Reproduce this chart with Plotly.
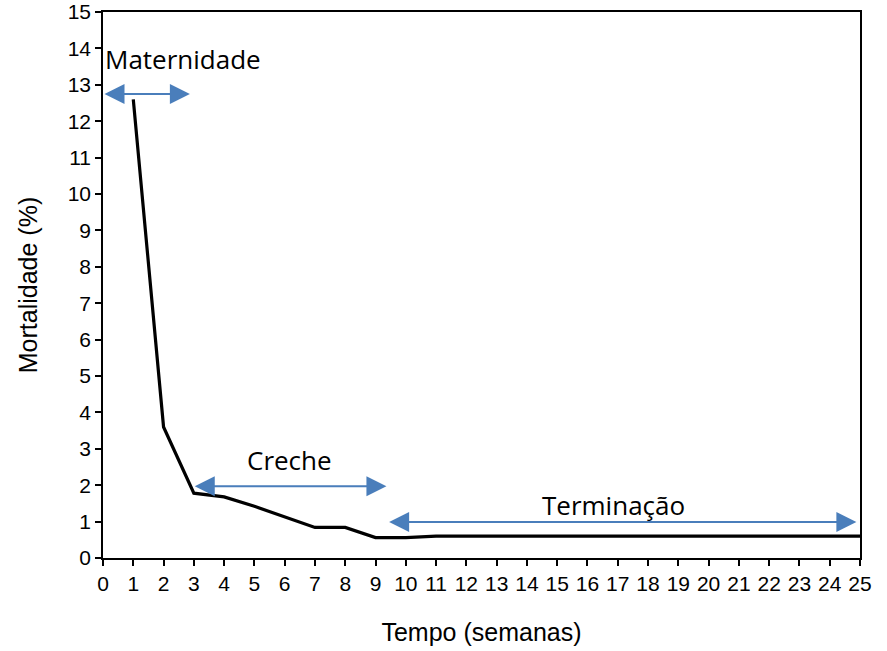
import plotly.graph_objects as go

weeks = list(range(1, 26))
mortality = [12.6, 3.6, 1.78, 1.68, 1.42, 1.13, 0.84, 0.84, 0.56, 0.56,
             0.6, 0.6, 0.6, 0.6, 0.6, 0.6, 0.6, 0.6, 0.6, 0.6,
             0.6, 0.6, 0.6, 0.6, 0.6]

phase_names = ["Maternidade", "Creche", "Terminação"]
phase_start = [0.0, 2.98, 9.4]
phase_end = [2.87, 9.36, 24.88]
phase_y = [12.75, 1.97, 0.99]
label_x = [2.64, 6.17, 16.87]
label_y = [13.7, 2.7, 1.45]

x_ticks = list(range(0, 26))
y_ticks = list(range(0, 16))

fig = go.Figure()
fig.add_trace(go.Scatter(x=weeks, y=mortality, mode="lines",
                         line=dict(color="black", width=3.2), showlegend=False,
                         hoverinfo="skip"))

arrow_color = "#4a7ebb"
for name, x0, x1, y, lx, ly in zip(phase_names, phase_start, phase_end, phase_y, label_x, label_y):
    fig.add_annotation(x=x1, y=y, ax=x0, ay=y, xref="x", yref="y", axref="x", ayref="y",
                       text="", showarrow=True, arrowhead=2, startarrowhead=2,
                       arrowside="end+start", arrowsize=2, startarrowsize=2,
                       arrowwidth=2, arrowcolor=arrow_color)
    fig.add_annotation(x=lx, y=ly, xref="x", yref="y", text=name, showarrow=False,
                       font=dict(family="Open Sans, Liberation Sans, sans-serif", size=26, color="black"))

fig.update_layout(
    width=887, height=651,
    margin=dict(l=103, r=27, t=12, b=93),
    plot_bgcolor="white", paper_bgcolor="white",
    font=dict(family="Liberation Sans, Arial, sans-serif", size=19, color="black"),
    xaxis=dict(range=[0, 25], tickvals=x_ticks, ticktext=[str(v) for v in x_ticks],
               showgrid=False, zeroline=False, showline=True, linecolor="black", linewidth=1.5,
               mirror=True, ticks="outside", ticklen=6, tickcolor="black", tickwidth=1.5,
               automargin=False, tickfont=dict(size=21), ticklabeloverflow="allow",
               title=dict(text="Tempo (semanas)", font=dict(size=25), standoff=30)),
    yaxis=dict(range=[0, 15], tickvals=y_ticks, ticktext=[str(v) for v in y_ticks],
               showgrid=False, zeroline=False, showline=True, linecolor="black", linewidth=1.5,
               mirror=True, ticks="outside", ticklen=6, tickcolor="black", tickwidth=1.5,
               automargin=False, tickfont=dict(size=21), ticklabeloverflow="allow",
               title=dict(text="Mortalidade (%)", font=dict(size=25), standoff=23)),
)

fig.write_html("out.html", config={"displayModeBar": False},
               post_script="document.body.style.margin='0';")
